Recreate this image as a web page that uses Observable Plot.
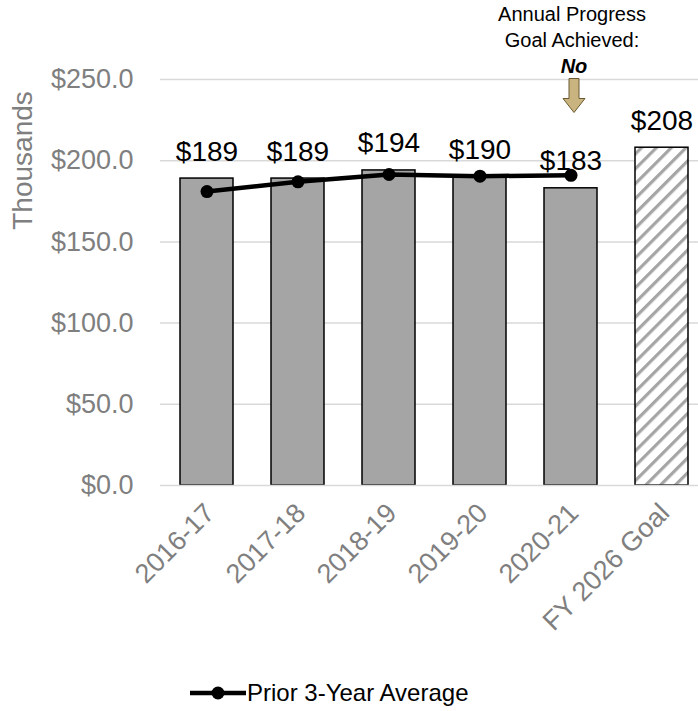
<!DOCTYPE html>
<html>
<head>
<meta charset="utf-8">
<script src="https://cdn.jsdelivr.net/npm/d3@7"></script>
<script src="https://cdn.jsdelivr.net/npm/@observablehq/plot@0.6"></script>
<style>
  body { margin: 0; background: #fff; font-family: "Liberation Sans", Arial, sans-serif; }
  #chart svg { display: block; }
  #legend { height: 66px; display: flex; align-items: center; padding-left: 190px; font-size: 24px; color: #000; }
  #legend svg { display: block; margin-right: 1px; }
</style>
</head>
<body>
<div id="chart"></div>
<div id="legend"></div>
<script>
// ---- data ----
const categories = ["2016-17", "2017-18", "2018-19", "2019-20", "2020-21", "FY 2026 Goal"];
const barValues = [189, 189, 194, 190, 183, 208];
const goalCategory = "FY 2026 Goal";
const avgCategories = ["2016-17", "2017-18", "2018-19", "2019-20", "2020-21"];
const avgValues = [181, 187, 191.5, 190.5, 191];
const yTicks = [0, 50, 100, 150, 200, 250];
const yLabel = "Thousands";
const legendLabel = "Prior 3-Year Average";
const annotationCategory = "2020-21";
const annotationText = "Annual Progress\nGoal Achieved:";
const annotationResult = "No";

const bars = categories.map((c, i) => ({cat: c, value: barValues[i]}));
const actualBars = bars.filter(d => d.cat !== goalCategory);
const goalBars = bars.filter(d => d.cat === goalCategory);
const avg = avgCategories.map((c, i) => ({cat: c, value: avgValues[i]}));
const annotation = [{cat: annotationCategory, text: annotationText, result: annotationResult}];

const gray = "#7f7f7f";
const font = "Liberation Sans, Arial, sans-serif";

const arrowSymbol = {
  draw(context, size) {
    const r = Math.sqrt(size / Math.PI);
    const k = r / 17;
    context.moveTo(-5 * k, -17 * k);
    context.lineTo(5 * k, -17 * k);
    context.lineTo(5 * k, 3 * k);
    context.lineTo(11 * k, 3 * k);
    context.lineTo(0, 17 * k);
    context.lineTo(-11 * k, 3 * k);
    context.lineTo(-5 * k, 3 * k);
    context.closePath();
  }
};

const chart = Plot.plot({
  width: 698,
  height: 660,
  marginTop: 79,
  marginBottom: 175,
  marginLeft: 160,
  marginRight: 0,
  style: {fontFamily: font, background: "#fff", overflow: "visible"},
  x: {type: "band", domain: categories, range: [160, 707], paddingInner: 0.42, paddingOuter: 0.21},
  y: {domain: [0, 250]},
  marks: [
    Plot.ruleY(yTicks.filter(d => d > 0), {y: d => d, stroke: "#d9d9d9", strokeWidth: 1.5}),
    Plot.barY(actualBars, {x: "cat", y: "value", fill: "#a5a5a5", stroke: "#000", strokeWidth: 1.5}),
    Plot.barY(goalBars, {x: "cat", y: "value", fill: "url(#hatch)", stroke: "#000", strokeWidth: 1.5}),
    Plot.ruleY([0], {stroke: "#d9d9d9", strokeWidth: 1.5}),
    Plot.text(bars, {x: "cat", y: "value", text: d => "$" + d.value, dy: -18, lineAnchor: "bottom", fontSize: 28, fill: "#000"}),
    Plot.line(avg, {x: "cat", y: "value", stroke: "#000", strokeWidth: 4.5}),
    Plot.dot(avg, {x: "cat", y: "value", r: 6.5, fill: "#000", stroke: null}),
    Plot.axisY(yTicks, {tickSize: 0, tickPadding: 27, tickFormat: d => "$" + d.toFixed(1), fontSize: 27, color: gray, label: null}),
    Plot.axisX({tickRotate: -45, tickSize: 0, tickPadding: 23, dx: 3, fontSize: 27, color: gray, label: null}),
    Plot.text([yLabel], {frameAnchor: "left", textAnchor: "middle", dx: -137, dy: -122, rotate: -90, fontSize: 28, fill: gray}),
    Plot.text(annotation, {x: "cat", frameAnchor: "top", text: "text", dx: 1, dy: -33, lineAnchor: "bottom", lineHeight: 1.3, fontSize: 20, fill: "#000"}),
    Plot.text(annotation, {x: "cat", frameAnchor: "top", text: "result", dx: 3, dy: -7, lineAnchor: "bottom", fontSize: 20, fontWeight: "bold", fontStyle: "italic", fill: "#000"}),
    Plot.dot(annotation, {x: "cat", frameAnchor: "top", dx: 3, dy: 16, symbol: arrowSymbol, r: 17, fill: "#c9b37e", stroke: "#6b5a34", strokeWidth: 1})
  ]
});

// hatch pattern for goal bar
const ns = "http://www.w3.org/2000/svg";
const defs = document.createElementNS(ns, "defs");
defs.innerHTML = '<pattern id="hatch" patternUnits="userSpaceOnUse" width="10.5" height="10.5" patternTransform="rotate(45)">' +
  '<rect width="10.5" height="10.5" fill="#fff"/><rect x="0" y="0" width="3.2" height="10.5" fill="#a5a5a5"/></pattern>';
chart.insertBefore(defs, chart.firstChild);
document.getElementById("chart").appendChild(chart);

// legend
const legend = document.getElementById("legend");
const ls = d3.create("svg").attr("width", 56).attr("height", 14);
ls.append("line").attr("x1", 0).attr("x2", 56).attr("y1", 7).attr("y2", 7).attr("stroke", "#000").attr("stroke-width", 4.5);
ls.append("circle").attr("cx", 28).attr("cy", 7).attr("r", 6.5).attr("fill", "#000");
legend.appendChild(ls.node());
const lt = document.createElement("span");
lt.textContent = legendLabel;
legend.appendChild(lt);
</script>
</body>
</html>
